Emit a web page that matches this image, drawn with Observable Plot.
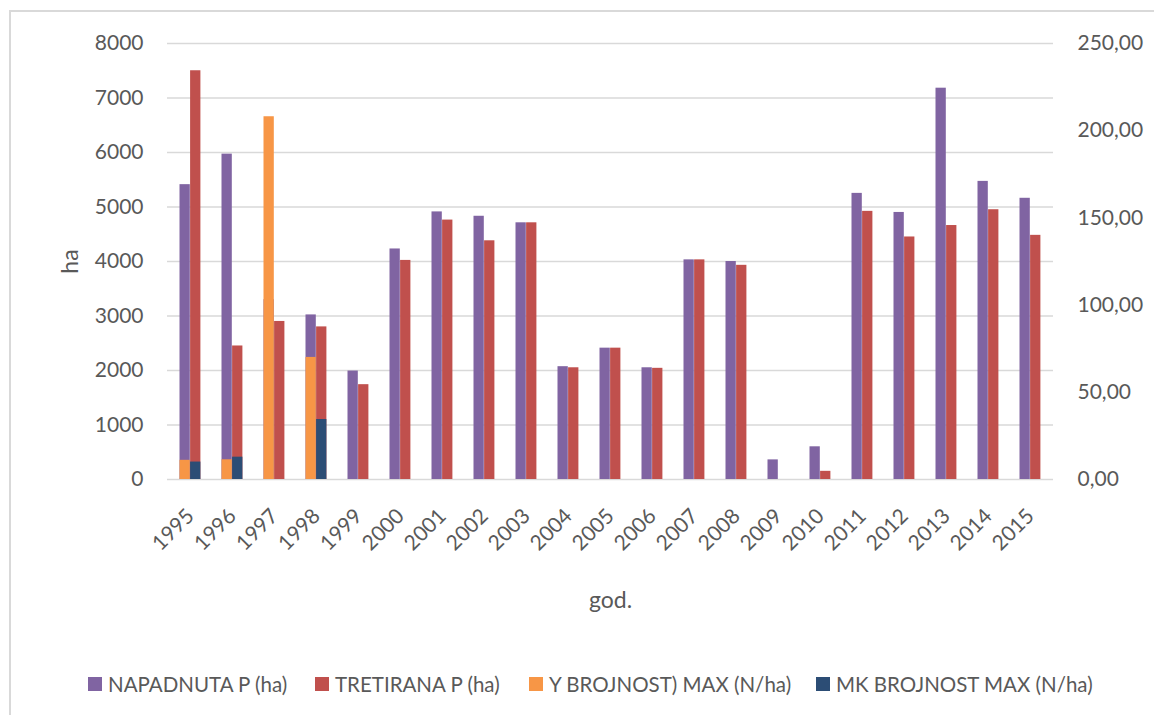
<!DOCTYPE html>
<html><head><meta charset="utf-8">
<script src="https://cdn.jsdelivr.net/npm/d3@7"></script>
<script src="https://cdn.jsdelivr.net/npm/@observablehq/plot@0.6"></script>
<style>
html,body{margin:0;padding:0;background:#fff;overflow:hidden}
#wrap{position:relative;width:1154px;height:715px;overflow:hidden;font-family:Lato,sans-serif;color:#595959;background:#fff}
#frame{position:absolute;left:9px;top:10px;width:1180px;height:740px;border:2px solid #d9d9d9;box-sizing:border-box}
#chart{position:absolute;left:0;top:0}
.item{position:absolute;top:671px;height:26px;display:flex;align-items:center;font-size:20.5px;white-space:nowrap}
.sw{display:inline-block;width:14px;height:14px;margin-right:6px}
</style>
</head><body>
<div id="wrap"><div id="frame"></div><div id="chart"></div><div id="legend"></div></div>
<script>
const years = ["1995","1996","1997","1998","1999","2000","2001","2002","2003","2004","2005","2006","2007","2008","2009","2010","2011","2012","2013","2014","2015"];
const napadnuta = [5410, 5970, 3300, 3020, 1990, 4230, 4910, 4830, 4710, 2070, 2410, 2050, 4030, 4000, 360, 600, 5250, 4900, 7180, 5470, 5160];
const tretirana = [7500, 2450, 2900, 2800, 1740, 4020, 4760, 4380, 4710, 2050, 2410, 2040, 4030, 3930, null, 150, 4920, 4450, 4660, 4950, 4480];
const yBrojnost = [11, 11.3, 208, 70, null, null, null, null, null, null, null, null, null, null, null, null, null, null, null, null, null];
const mkBrojnost = [10, 12.8, null, 34.4, null, null, null, null, null, null, null, null, null, null, null, null, null, null, null, null, null];
const seriesNames = ["NAPADNUTA P (ha)", "TRETIRANA P (ha)", "Y BROJNOST) MAX (N/ha)", "MK BROJNOST MAX (N/ha)"];
const colors = ["#8064A2", "#C0504D", "#F79646", "#2C4D75"];
const leftTicks = [0, 1000, 2000, 3000, 4000, 5000, 6000, 7000, 8000];
const rightTicks = [0, 50, 100, 150, 200, 250];

const k = 8000 / 250; // secondary -> primary units
const rows = years.map((year, i) => ({year, nap: napadnuta[i], tre: tretirana[i], yb: yBrojnost[i], mk: mkBrojnost[i]}));
const W1 = {insetLeft: 10.5, insetRight: 21.2};
const W2 = {insetLeft: 21.1, insetRight: 10.6};

const chart = Plot.plot({
  width: 1154, height: 640,
  marginLeft: 167, marginRight: 101, marginTop: 43, marginBottom: 161,
  style: {fontFamily: "Lato, sans-serif", fontSize: "21px", color: "#595959", background: "transparent", overflow: "visible"},
  x: {type: "band", domain: years, padding: 0},
  y: {domain: [0, 8000]},
  marks: [
    Plot.gridY(leftTicks, {stroke: "#d9d9d9", strokeOpacity: 1, strokeWidth: 1.4}),
    Plot.barY(rows, {x: "year", y: "nap", fill: colors[0], ...W1}),
    Plot.barY(rows, {x: "year", y: "tre", fill: colors[1], ...W2}),
    Plot.barY(rows, {x: "year", y: d => d.yb == null ? null : d.yb * k, fill: colors[2], ...W1}),
    Plot.barY(rows, {x: "year", y: d => d.mk == null ? null : d.mk * k, fill: colors[3], ...W2}),
    Plot.axisY({ticks: leftTicks, tickFormat: d3.format("d"), tickSize: 0, tickPadding: 24,
      label: "ha", labelAnchor: "center", labelOffset: 106, labelArrow: "none"}),
    Plot.axisY({anchor: "right", ticks: rightTicks.map(v => v * k),
      tickFormat: v => (v / k).toFixed(2).replace(".", ","), tickSize: 0, tickPadding: 24, label: null}),
    Plot.axisX({tickRotate: -45, tickSize: 0, tickPadding: 33,
      label: "god.", labelAnchor: "center", labelOffset: 128, labelArrow: "none"})
  ]
});
d3.select(chart).selectAll('[aria-label$="axis label"]').attr("font-size", 23);
document.getElementById("chart").appendChild(chart);

const legendX = [88, 315, 529, 816];
const leg = document.getElementById("legend");
seriesNames.forEach((name, i) => {
  const it = document.createElement("div");
  it.className = "item";
  it.style.left = legendX[i] + "px";
  it.innerHTML = `<span class="sw" style="background:${colors[i]}"></span><span>${name}</span>`;
  leg.appendChild(it);
});
</script>
</body></html>
